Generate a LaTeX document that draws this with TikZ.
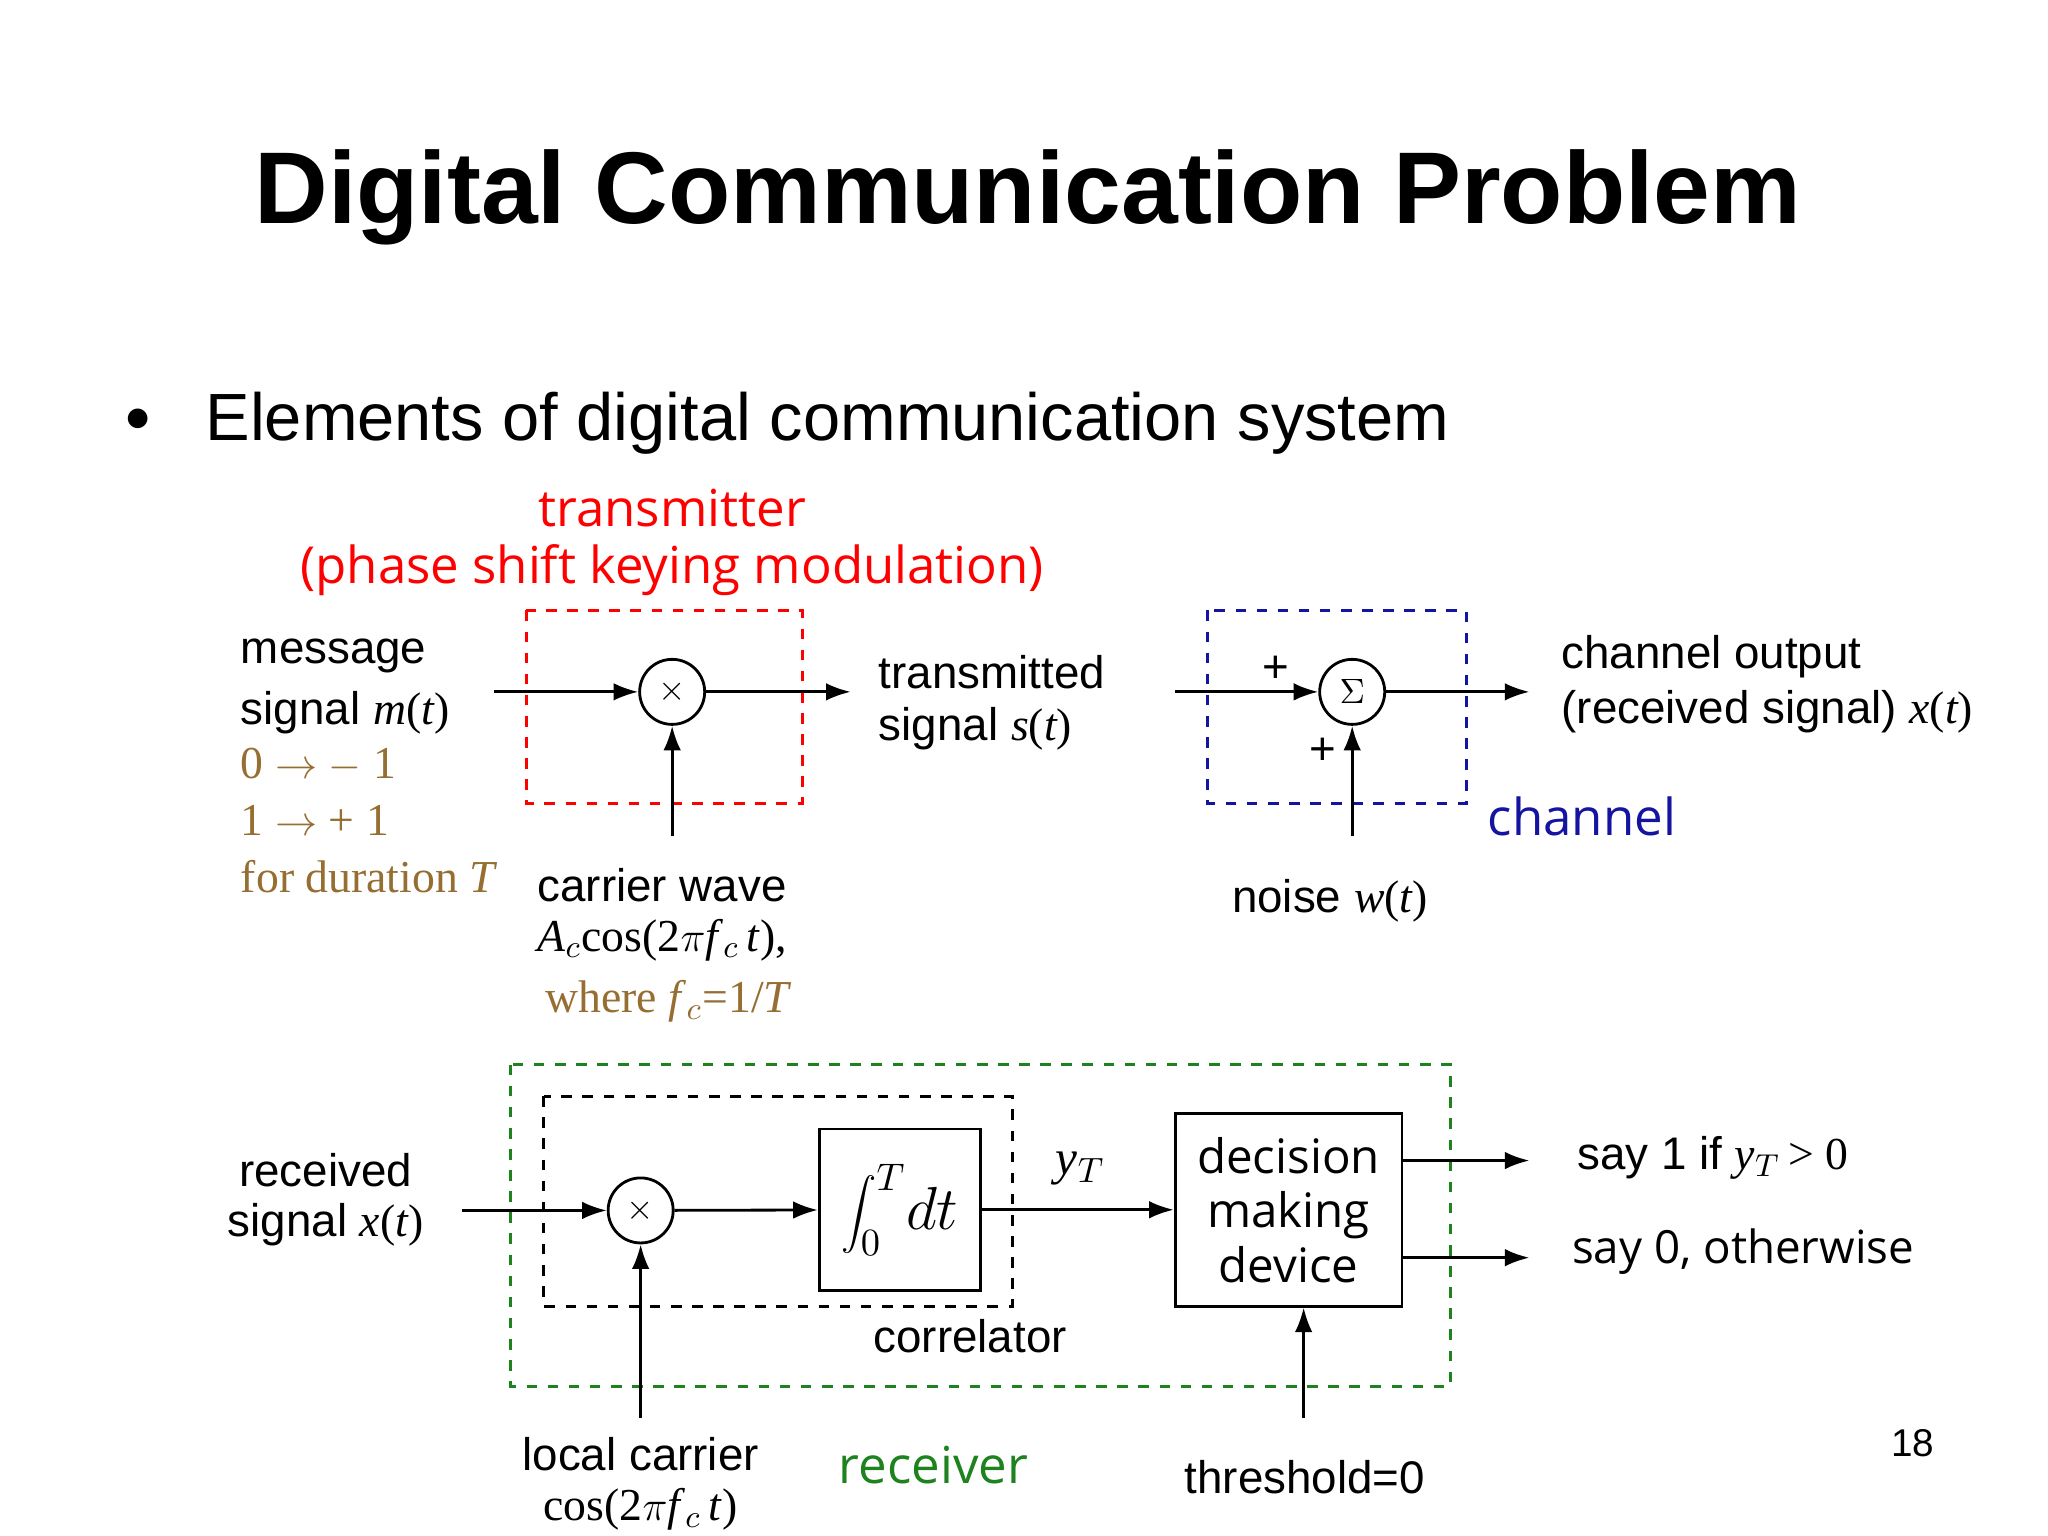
\documentclass[tikz,border=0pt]{standalone}
\usepackage{fontspec}
\setmainfont{Liberation Sans}
\newfontfamily\opensans{Open Sans}
\newfontfamily\serifm{Liberation Serif}
\usetikzlibrary{arrows.meta}
\definecolor{brn}{RGB}{150,110,50}
\definecolor{chblue}{RGB}{20,20,160}
\definecolor{rgreen}{RGB}{30,130,30}
\begin{document}
\begin{tikzpicture}[x=0.01313cm,y=-0.01313cm,
  lbl/.style={font=\fontsize{13}{15}\selectfont,inner sep=0pt},
  lblL/.style={lbl,anchor=west},
  arr/.style={-{Latex[length=7pt,width=5pt]},line width=0.8pt},
  mult/.style={circle,draw,line width=0.8pt,minimum size=18.5pt,inner sep=0pt},
  dbox/.style={dashed,line width=0.8pt}]
\useasboundingbox (0,0) rectangle (1560,1170);
\node[font=\fontsize{29}{34}\selectfont\bfseries] (title) at (783,150) {Digital Communication Problem};
\node[font=\fontsize{14}{16}\selectfont] (bul) at (105,320) {$\bullet$};
\node[font=\fontsize{19}{23}\selectfont,anchor=west,inner sep=0pt] (sub) at (156,322) {Elements of digital communication system};
% transmitter
\node[font=\opensans\fontsize{14.5}{17}\selectfont,text=red] (tx1) at (512,387) {transmitter};
\node[font=\opensans\fontsize{14.5}{17}\selectfont,text=red] (tx2) at (512,434) {(phase shift keying modulation)};
\draw[dbox,red] (401,465) rectangle (611,612);
\node[mult] (m1) at (512,527) {$\times$};
\coordinate (min) at (376,527);
\coordinate (mout) at (648,527);
\coordinate (car) at (512,637);
\draw[arr] (min) -- (m1);
\draw[arr] (m1) -- (mout);
\draw[arr] (car) -- (m1);
\node[lblL] (ms1) at (183,500) {message};
\node[lblL] (ms2) at (183,543) {signal {\serifm\itshape m}{\serifm(}{\serifm\itshape t}{\serifm)}};
\node[lblL,text=brn,font=\serifm\fontsize{13}{15}\selectfont] (b1) at (183,583) {0 $\rightarrow$ $-$ 1};
\node[lblL,text=brn,font=\serifm\fontsize{13}{15}\selectfont] (b2) at (183,625) {1 $\rightarrow$ + 1};
\node[lblL,text=brn,font=\serifm\fontsize{13}{15}\selectfont] (b3) at (183,668) {for duration \textit{T}};
\node[lblL] (ts1) at (669,512) {transmitted};
\node[lblL] (ts2) at (669,555) {signal {\serifm\itshape s}{\serifm(}{\serifm\itshape t}{\serifm)}};
\node[lblL] (cw1) at (409,674) {carrier wave};
\node[lblL,font=\serifm\fontsize{13}{15}\selectfont] (cw2) at (409,716) {\textit{A}$_c$cos(2$\pi$\textit{f}$_c$\,\textit{t}),};
\node[lblL,font=\serifm\fontsize{13}{15}\selectfont,text=brn] (cw3) at (415,763) {where \textit{f}$_c$=1/\textit{T}};
% channel
\draw[dbox,chblue] (920,465) rectangle (1117,612);
\node[mult] (sg) at (1030,527) {$\Sigma$};
\coordinate (sin) at (895,527);
\coordinate (sout) at (1165,527);
\coordinate (nz) at (1030,637);
\draw[arr] (sin) -- (sg);
\draw[arr] (sg) -- (sout);
\draw[arr] (nz) -- (sg);
\node[lbl] (p1) at (972,510) {+};
\node[lbl] (p2) at (1008,572) {+};
\node[font=\opensans\fontsize{14.5}{17}\selectfont,text=chblue] (chl) at (1205,622) {channel};
\node[lbl] (nw) at (1013,686) {noise {\serifm\itshape w}{\serifm(}{\serifm\itshape t}{\serifm)}};
\node[lblL] (co1) at (1189,500) {channel output};
\node[lblL] (co2) at (1189,542) {(received signal) {\serifm\itshape x}{\serifm(}{\serifm\itshape t}{\serifm)}};
% receiver
\draw[dbox,rgreen] (389,811) rectangle (1105,1056);
\draw[dbox,black] (414,835) rectangle (771,995);
\node[mult] (m2) at (488,922) {$\times$};
\node[draw,line width=0.8pt,minimum width=45.9pt,minimum height=45.9pt,inner sep=0pt] (int) at (685.5,921.5) {\fontsize{16}{18}\selectfont$\displaystyle\int_0^T\! dt$};
\node[draw,line width=0.8pt,minimum width=64.5pt,minimum height=54.8pt,align=center,inner sep=0pt,font=\opensans\fontsize{13.5}{15.5}\selectfont] (dec) at (981.5,921.5) {decision\\making\\device};
\coordinate (rin) at (352,922);
\coordinate (lc) at (488,1080);
\coordinate (th) at (993,1080);
\draw[arr] (rin) -- (m2);
\draw[arr] (m2) -- (int);
\draw[arr] (int) -- (dec);
\draw[arr] (lc) -- (m2);
\draw[arr] (th) -- (th|-dec.south);
\coordinate (o1e) at (1165,884);
\coordinate (o2e) at (1165,958);
\draw[arr] (dec.east|-o1e) -- (o1e);
\draw[arr] (dec.east|-o2e) -- (o2e);
\node[lbl,font=\serifm\fontsize{14}{16}\selectfont] (yt) at (823,890) {\textit{y}$_T$};
\node[lblL] (s1) at (1201,882) {say 1 if {\serifm\itshape y}$_T${\serifm\,> 0}};
\node[lblL,font=\opensans\fontsize{13}{15}\selectfont] (s2) at (1197,953) {say 0, otherwise};
\node[lbl] (rs1) at (248,891) {received};
\node[lbl] (rs2) at (248,933) {signal {\serifm\itshape x}{\serifm(}{\serifm\itshape t}{\serifm)}};
\node[lbl] (corr) at (739,1018) {correlator};
\node[lbl] (lc1) at (488,1108) {local carrier};
\node[lbl,font=\serifm\fontsize{13}{15}\selectfont] (lc2) at (488,1150) {cos(2$\pi$\textit{f}$_c$\,\textit{t})};
\node[font=\opensans\fontsize{14.5}{17}\selectfont,text=rgreen] (rcv) at (711,1116) {receiver};
\node[lbl] (thl) at (994,1125) {threshold=0};
\node[lbl,font=\fontsize{11}{13}\selectfont] (pg) at (1457,1099) {18};
\end{tikzpicture}
\end{document}
